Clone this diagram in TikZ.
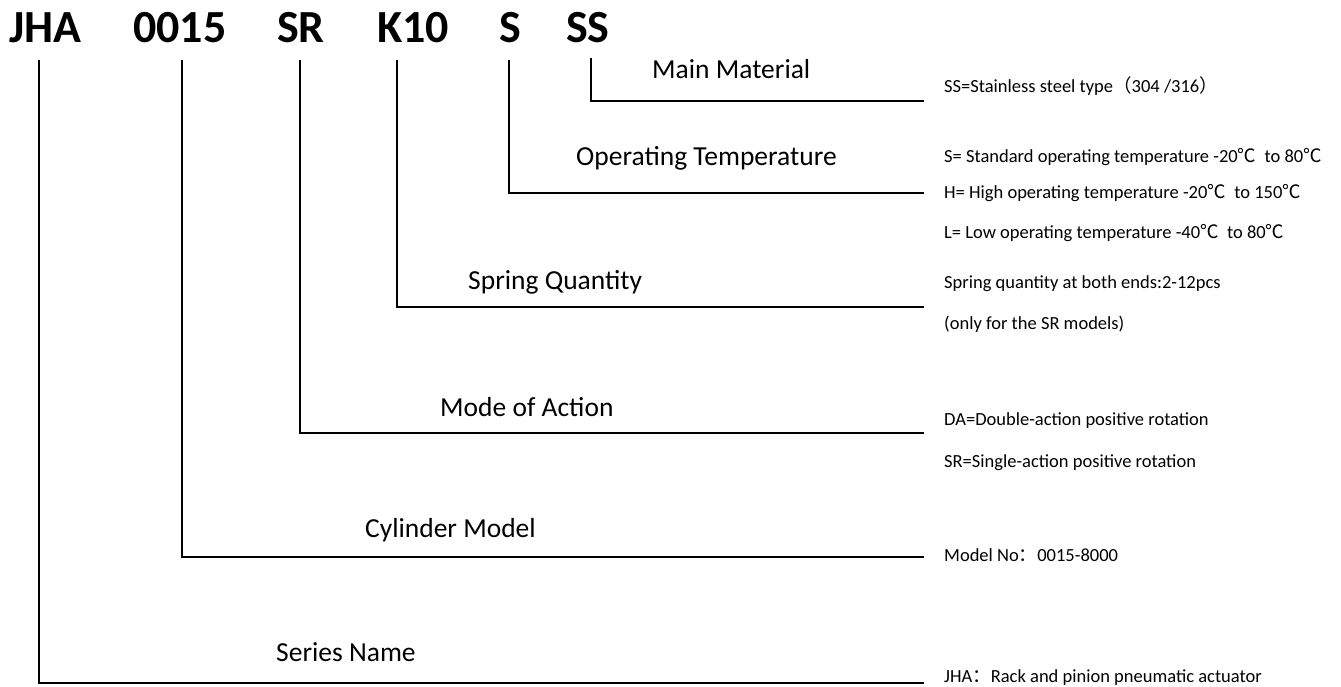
\documentclass[tikz,border=0pt]{standalone}
\usepackage{fontspec}
\setmainfont{Carlito}
\newfontfamily\cjk{Noto Sans CJK SC}
\begin{document}
\begin{tikzpicture}[x=1pt,y=-1pt,
  code/.style={font=\bfseries\fontsize{46}{46}\selectfont, anchor=base west, inner sep=0pt},
  field/.style={font=\fontsize{27.5}{27.5}\selectfont, anchor=base west, inner sep=0pt},
  option/.style={font=\fontsize{18.5}{18.5}\selectfont, anchor=base west, inner sep=0pt},
  leader/.style={line width=2pt, line join=miter}]
\useasboundingbox (0,0) rectangle (1341,687);

% model code segments
\node[code] (jha) at (9,43) {JHA};
\node[code] (num) at (133,43) {0015};
\node[code] (act) at (277,43) {SR};
\node[code] (spr) at (377,43) {K10};
\node[code] (tmp) at (499,43) {S};
\node[code] (mat) at (566,43) {SS};

% leader start and end points
\coordinate (jha-top) at (39,60);   \coordinate (jha-end) at (924,683);
\coordinate (num-top) at (182,60);  \coordinate (num-end) at (924,557);
\coordinate (act-top) at (300,60);  \coordinate (act-end) at (924,433);
\coordinate (spr-top) at (397,60);  \coordinate (spr-end) at (924,307);
\coordinate (tmp-top) at (509,60);  \coordinate (tmp-end) at (924,193);
\coordinate (mat-top) at (591,58);  \coordinate (mat-end) at (924,101);

\draw[leader] (jha-top) |- (jha-end);
\draw[leader] (num-top) |- (num-end);
\draw[leader] (act-top) |- (act-end);
\draw[leader] (spr-top) |- (spr-end);
\draw[leader] (tmp-top) |- (tmp-end);
\draw[leader] (mat-top) |- (mat-end);

% field names
\node[field] (f-mat) at (652,79)  {Main Material};
\node[field] (f-tmp) at (576,166) {Operating Temperature};
\node[field] (f-spr) at (468,289) {Spring Quantity};
\node[field] (f-act) at (440,416) {Mode of Action};
\node[field] (f-num) at (365,537) {Cylinder Model};
\node[field] (f-jha) at (276,661) {Series Name};

% option descriptions
\node[option] (o-ss)  at (944,93)  {SS=Stainless steel type{\cjk （}304 /316{\cjk ）}};
\node[option] (o-s)   at (944,163) {S= Standard operating temperature -20{\cjk ℃}\ \ to 80{\cjk ℃}};
\node[option] (o-h)   at (944,199) {H= High operating temperature -20{\cjk ℃}\ \ to 150{\cjk ℃}};
\node[option] (o-l)   at (944,239) {L= Low operating temperature -40{\cjk ℃}\ \ to 80{\cjk ℃}};
\node[option] (o-k1)  at (944,288) {Spring quantity at both ends:2-12pcs};
\node[option] (o-k2)  at (944,329) {(only for the SR models)};
\node[option] (o-da)  at (944,425) {DA=Double-action positive rotation};
\node[option] (o-sr)  at (944,467) {SR=Single-action positive rotation};
\node[option] (o-num) at (944,561) {Model No{\cjk ：}0015-8000};
\node[option] (o-jha) at (944,682) {JHA{\cjk ：}Rack and pinion pneumatic actuator};
\end{tikzpicture}
\end{document}
